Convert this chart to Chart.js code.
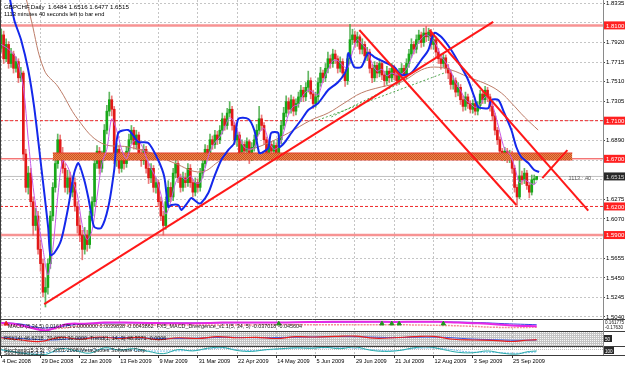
<!DOCTYPE html>
<html>
<head>
<meta charset="utf-8">
<title>GBPCHF Daily</title>
<script src="https://cdn.jsdelivr.net/npm/chart.js@4.4.1/dist/chart.umd.min.js"></script>
<style>
  html, body { margin: 0; padding: 0; background: #fff; }
  canvas { display: block; }
</style>
</head>
<body>
<canvas id="chart" width="625" height="365"></canvas>
<script>
// header texts
const symbolTitle = "GBPCHF,Daily  1.6484 1.6516 1.6477 1.6515";
const timerText = "1113 minutes 40 seconds left to bar end";
const timerShort = "1113 : 40";

// x axis: one label every 16 daily bars
const dateLabels = ["4 Dec 2008", "29 Dec 2008", "22 Jan 2009", "13 Feb 2009", "9 Mar 2009", "31 Mar 2009",
  "22 Apr 2009", "14 May 2009", "5 Jun 2009", "29 Jun 2009", "21 Jul 2009", "12 Aug 2009", "3 Sep 2009", "25 Sep 2009"];
const dateBars = [0, 16, 32, 48, 64, 80, 96, 112, 128, 144, 160, 176, 192, 208];

// price axis
const priceTicks = [1.8335, 1.8130, 1.7920, 1.7715, 1.7510, 1.7305, 1.7100, 1.6890, 1.6685, 1.6480,
  1.6275, 1.6070, 1.5865, 1.5655, 1.5450, 1.5245, 1.5040];

// daily candles
const opens = [
  1.7860,1.8000,1.7750,1.7900,1.7700,1.7800,1.7650,1.7720,1.7550,1.7600,
  1.6750,1.6400,1.6550,1.6250,1.6000,1.6100,1.5750,1.5600,1.5300,1.5350,
  1.5600,1.6100,1.6400,1.6650,1.6900,1.6750,1.6600,1.6400,1.6500,1.6350,
  1.6450,1.6200,1.6000,1.5900,1.5750,1.5900,1.5800,1.6100,1.6250,1.6650,
  1.6780,1.6600,1.6720,1.7000,1.7200,1.7320,1.7220,1.6700,1.6800,1.6600,
  1.6720,1.6650,1.6780,1.6900,1.7000,1.6850,1.6950,1.6750,1.6680,1.6800,
  1.6600,1.6500,1.6600,1.6400,1.6450,1.6250,1.6100,1.6000,1.6250,1.6400,
  1.6300,1.6550,1.6650,1.6500,1.6400,1.6500,1.6450,1.6600,1.6450,1.6350,
  1.6450,1.6400,1.6550,1.6650,1.6800,1.6750,1.6900,1.6850,1.6950,1.6900,
  1.7000,1.7120,1.7050,1.7180,1.7220,1.7050,1.6900,1.6950,1.6750,1.6850,
  1.6780,1.6880,1.6720,1.6820,1.6900,1.7000,1.7120,1.7050,1.6900,1.6750,
  1.6850,1.6780,1.6840,1.6760,1.6900,1.7050,1.7180,1.7300,1.7220,1.7320,
  1.7200,1.7280,1.7350,1.7420,1.7350,1.7450,1.7520,1.7380,1.7280,1.7350,
  1.7500,1.7600,1.7550,1.7650,1.7750,1.7700,1.7800,1.7750,1.7650,1.7720,
  1.7600,1.7520,1.7750,1.7950,1.8000,1.7920,1.7980,1.7850,1.7900,1.7780,
  1.7820,1.7650,1.7550,1.7680,1.7600,1.7700,1.7580,1.7520,1.7620,1.7550,
  1.7650,1.7580,1.7520,1.7600,1.7650,1.7580,1.7700,1.7800,1.7900,1.7850,
  1.7950,1.8000,1.7920,1.8020,1.7980,1.8030,1.7900,1.7950,1.7820,1.7750,
  1.7700,1.7760,1.7650,1.7600,1.7480,1.7520,1.7400,1.7450,1.7320,1.7250,
  1.7350,1.7280,1.7220,1.7280,1.7200,1.7260,1.7380,1.7320,1.7420,1.7350,
  1.7250,1.7150,1.7000,1.6900,1.6780,1.6720,1.6780,1.6700,1.6750,1.6600,
  1.6400,1.6300,1.6520,1.6480,1.6550,1.6420,1.6350,1.6480,1.6484
];
const highs = [
  1.8060,1.8040,1.7960,1.7930,1.7860,1.7830,1.7770,1.7750,1.7660,1.7620,
  1.6800,1.6620,1.6600,1.6300,1.6180,1.6150,1.5850,1.5650,1.5450,1.5650,
  1.6150,1.6450,1.6720,1.6960,1.6950,1.6820,1.6650,1.6580,1.6560,1.6520,
  1.6500,1.6250,1.6080,1.5950,1.5980,1.5950,1.6150,1.6300,1.6720,1.6840,
  1.6820,1.6780,1.7060,1.7260,1.7400,1.7360,1.7250,1.6860,1.6840,1.6770,
  1.6760,1.6830,1.6960,1.7050,1.7030,1.7000,1.6980,1.6800,1.6850,1.6830,
  1.6650,1.6650,1.6630,1.6500,1.6480,1.6300,1.6150,1.6300,1.6470,1.6450,
  1.6600,1.6700,1.6680,1.6540,1.6560,1.6550,1.6650,1.6640,1.6480,1.6500,
  1.6490,1.6600,1.6700,1.6850,1.6840,1.6960,1.6940,1.7000,1.6990,1.7050,
  1.7180,1.7150,1.7230,1.7300,1.7250,1.7080,1.7000,1.6980,1.6900,1.6880,
  1.6920,1.6900,1.6870,1.6950,1.7060,1.7250,1.7160,1.7080,1.6930,1.6890,
  1.6880,1.6890,1.6870,1.6950,1.7100,1.7240,1.7360,1.7340,1.7370,1.7350,
  1.7330,1.7400,1.7470,1.7450,1.7500,1.7620,1.7550,1.7420,1.7400,1.7550,
  1.7660,1.7630,1.7700,1.7820,1.7790,1.7850,1.7840,1.7780,1.7770,1.7750,
  1.7640,1.7800,1.8110,1.8060,1.8040,1.8030,1.8000,1.7960,1.7930,1.7870,
  1.7850,1.7690,1.7720,1.7710,1.7750,1.7730,1.7620,1.7670,1.7650,1.7700,
  1.7680,1.7610,1.7650,1.7700,1.7680,1.7750,1.7850,1.7960,1.7930,1.8000,
  1.8050,1.8030,1.8070,1.8090,1.8070,1.8060,1.8000,1.7980,1.7860,1.7790,
  1.7800,1.7790,1.7690,1.7630,1.7570,1.7550,1.7500,1.7480,1.7360,1.7400,
  1.7380,1.7310,1.7320,1.7310,1.7300,1.7420,1.7410,1.7460,1.7450,1.7380,
  1.7280,1.7180,1.7030,1.6930,1.6810,1.6820,1.6810,1.6790,1.6780,1.6630,
  1.6430,1.6720,1.6570,1.6600,1.6580,1.6450,1.6530,1.6530,1.6516
];
const lows = [
  1.7820,1.7700,1.7720,1.7650,1.7660,1.7600,1.7610,1.7500,1.7510,1.6680,
  1.6350,1.6330,1.6200,1.5900,1.5950,1.5700,1.5520,1.5250,1.5145,1.5280,
  1.5550,1.6050,1.6350,1.6600,1.6700,1.6550,1.6350,1.6330,1.6300,1.6300,
  1.6150,1.5920,1.5830,1.5640,1.5700,1.5730,1.5760,1.6050,1.6200,1.6600,
  1.6540,1.6560,1.6680,1.6960,1.7150,1.7150,1.6650,1.6620,1.6550,1.6560,
  1.6590,1.6610,1.6740,1.6860,1.6800,1.6800,1.6700,1.6620,1.6640,1.6550,
  1.6440,1.6450,1.6350,1.6340,1.6200,1.6050,1.5900,1.5960,1.6200,1.6250,
  1.6260,1.6500,1.6450,1.6350,1.6360,1.6400,1.6410,1.6400,1.6300,1.6310,
  1.6350,1.6360,1.6500,1.6610,1.6700,1.6710,1.6800,1.6810,1.6850,1.6860,
  1.6960,1.7000,1.7010,1.7140,1.7000,1.6850,1.6830,1.6680,1.6700,1.6720,
  1.6740,1.6650,1.6680,1.6780,1.6860,1.6960,1.7000,1.6850,1.6700,1.6710,
  1.6720,1.6740,1.6710,1.6720,1.6860,1.7010,1.7140,1.7170,1.7180,1.7150,
  1.7160,1.7240,1.7300,1.7300,1.7310,1.7400,1.7330,1.7230,1.7240,1.7300,
  1.7460,1.7500,1.7510,1.7600,1.7650,1.7660,1.7700,1.7600,1.7610,1.7550,
  1.7460,1.7480,1.7700,1.7900,1.7870,1.7880,1.7800,1.7800,1.7720,1.7730,
  1.7600,1.7500,1.7510,1.7550,1.7560,1.7530,1.7460,1.7480,1.7500,1.7510,
  1.7530,1.7470,1.7480,1.7550,1.7530,1.7540,1.7660,1.7760,1.7800,1.7810,
  1.7910,1.7870,1.7880,1.7930,1.7940,1.7850,1.7850,1.7770,1.7700,1.7640,
  1.7660,1.7600,1.7540,1.7430,1.7430,1.7350,1.7360,1.7270,1.7200,1.7210,
  1.7230,1.7180,1.7180,1.7160,1.7160,1.7220,1.7280,1.7280,1.7300,1.7200,
  1.7100,1.6950,1.6850,1.6740,1.6680,1.6680,1.6660,1.6660,1.6550,1.6350,
  1.6210,1.6280,1.6430,1.6440,1.6380,1.6290,1.6320,1.6440,1.6477
];
const closes = [
  1.8000,1.7750,1.7900,1.7700,1.7800,1.7650,1.7720,1.7550,1.7600,1.6750,
  1.6400,1.6550,1.6250,1.6000,1.6100,1.5750,1.5600,1.5300,1.5350,1.5600,
  1.6100,1.6400,1.6650,1.6900,1.6750,1.6600,1.6400,1.6500,1.6350,1.6450,
  1.6200,1.6000,1.5900,1.5750,1.5900,1.5800,1.6100,1.6250,1.6650,1.6780,
  1.6600,1.6720,1.7000,1.7200,1.7320,1.7220,1.6700,1.6800,1.6600,1.6720,
  1.6650,1.6780,1.6900,1.7000,1.6850,1.6950,1.6750,1.6680,1.6800,1.6600,
  1.6500,1.6600,1.6400,1.6450,1.6250,1.6100,1.6000,1.6250,1.6400,1.6300,
  1.6550,1.6650,1.6500,1.6400,1.6500,1.6450,1.6600,1.6450,1.6350,1.6450,
  1.6400,1.6550,1.6650,1.6800,1.6750,1.6900,1.6850,1.6950,1.6900,1.7000,
  1.7120,1.7050,1.7180,1.7220,1.7050,1.6900,1.6950,1.6750,1.6850,1.6780,
  1.6880,1.6720,1.6820,1.6900,1.7000,1.7120,1.7050,1.6900,1.6750,1.6850,
  1.6780,1.6840,1.6760,1.6900,1.7050,1.7180,1.7300,1.7220,1.7320,1.7200,
  1.7280,1.7350,1.7420,1.7350,1.7450,1.7520,1.7380,1.7280,1.7350,1.7500,
  1.7600,1.7550,1.7650,1.7750,1.7700,1.7800,1.7750,1.7650,1.7720,1.7600,
  1.7520,1.7750,1.7950,1.8000,1.7920,1.7980,1.7850,1.7900,1.7780,1.7820,
  1.7650,1.7550,1.7680,1.7600,1.7700,1.7580,1.7520,1.7620,1.7550,1.7650,
  1.7580,1.7520,1.7600,1.7650,1.7580,1.7700,1.7800,1.7900,1.7850,1.7950,
  1.8000,1.7920,1.8020,1.7980,1.8030,1.7900,1.7950,1.7820,1.7750,1.7700,
  1.7760,1.7650,1.7600,1.7480,1.7520,1.7400,1.7450,1.7320,1.7250,1.7350,
  1.7280,1.7220,1.7280,1.7200,1.7260,1.7380,1.7320,1.7420,1.7350,1.7250,
  1.7150,1.7000,1.6900,1.6780,1.6720,1.6780,1.6700,1.6750,1.6600,1.6400,
  1.6300,1.6520,1.6480,1.6550,1.6420,1.6350,1.6480,1.6484,1.6515
];

// moving averages, [bar, price]
const blueMa = [[3,1.845],[5.3,1.8157],[8.1,1.7947],[11,1.7632],[13.4,1.7244],[16.3,1.6614],[19.1,1.5984],[20,1.5691],
  [21.6,1.5712],[24.4,1.5848],[27.3,1.6194],[29.7,1.6551],[31.4,1.6656],[33.8,1.6478],[35.4,1.6299],[36.6,1.6131],
  [37.9,1.5984],[40.7,1.5974],[43.6,1.6194],[46,1.6583],[47.6,1.6971],[51.7,1.7002],[54.2,1.6929],[55.8,1.6876],
  [59.9,1.6866],[63.9,1.6687],[66.4,1.6509],[68,1.6194],[69.2,1.6215],[72.1,1.6215],[73.3,1.6163],[76.1,1.6247],
  [77.4,1.6289],[80.2,1.6236],[81.4,1.6236],[84.3,1.6341],[86.7,1.6509],[89.6,1.6687],[92.4,1.6792],[94.9,1.6866],
  [96.5,1.7118],[100.6,1.7118],[103,1.7002],[105,1.6761],[105.9,1.6761],[108.7,1.6813],[109.9,1.6971],[112.8,1.6971],
  [113.2,1.6824],[115.2,1.6866],[118.1,1.6971],[122.1,1.7107],[125,1.7212],[129.1,1.7286],[133.1,1.7422],[137.2,1.7506],
  [140.5,1.7632],[141.3,1.781],[143.7,1.7663],[146.6,1.7663],[149.4,1.781],[151.9,1.7768],[155.9,1.7716],[160,1.7663],
  [162.9,1.7579],[166.9,1.7600],[171,1.7737],[173.9,1.7842],[176.3,1.8020],[179.2,1.7978],[183.2,1.7842],[187.3,1.7663],
  [190.1,1.7527],[192.6,1.7349],[194.2,1.7244],[198.3,1.7233],[199.5,1.7317],[202.4,1.7317],[204.8,1.7181],
  [207.7,1.7002],[209.7,1.6824],[211.7,1.6719],[214.6,1.6656],[217,1.6583],[219,1.6562]];
const violetMa = [[0,1.790],[3,1.785],[6,1.776],[9,1.745],[11,1.690],[13,1.640],[15,1.605],[17,1.575],[19,1.548],[21,1.575],
  [23,1.630],[25,1.668],[27,1.662],[29,1.648],[31,1.632],[33,1.600],[35,1.585],[37,1.595],[39,1.630],[41,1.665],[43,1.680],
  [45,1.712],[47,1.700],[49,1.680],[51,1.670],[53,1.685],[55,1.690],[57,1.685],[59,1.672],[61,1.660],[63,1.650],[65,1.633],
  [67,1.612],[69,1.625],[71,1.645],[73,1.652],[75,1.648],[77,1.652],[79,1.645],[81,1.645],[83,1.660],[85,1.678],[87,1.687],
  [89,1.693],[91,1.703],[93,1.713],[95,1.708],[97,1.693],[99,1.682],[101,1.680],[103,1.682],[105,1.697],[107,1.702],
  [109,1.688],[111,1.680],[113,1.683],[115,1.698],[117,1.717],[119,1.725],[121,1.727],[123,1.737],[125,1.742],[127,1.740],
  [129,1.737],[131,1.752],[133,1.763],[135,1.773],[137,1.773],[139,1.768],[141,1.765],[143,1.782],[145,1.795],[147,1.790],
  [149,1.784],[151,1.770],[153,1.762],[155,1.764],[157,1.757],[159,1.760],[161,1.758],[163,1.759],[165,1.764],[167,1.776],
  [169,1.788],[171,1.796],[173,1.800],[175,1.797],[177,1.790],[179,1.778],[181,1.771],[183,1.762],[185,1.750],[187,1.742],
  [189,1.732],[191,1.728],[193,1.724],[195,1.727],[197,1.735],[199,1.733],[201,1.718],[203,1.698],[205,1.680],[207,1.675],
  [209,1.662],[211,1.645],[213,1.648],[215,1.645],[217,1.643],[218,1.646]];
const brownMa = [[10,1.840],[12.2,1.8157],[17.5,1.7632],[23.2,1.7454],[31.4,1.7107],[40.7,1.6866],[51.7,1.6824],
  [61.1,1.6761],[70.4,1.6656],[81.4,1.6562],[89.6,1.6687],[97.7,1.6761],[108.7,1.6866],[116.9,1.6971],[126.2,1.7107],
  [133.1,1.7181],[139.7,1.7286],[146.6,1.7391],[154.7,1.7454],[162.9,1.7506],[171,1.7632],[176.3,1.7663],[183.2,1.7632],
  [190.1,1.7558],[198.3,1.7475],[203.6,1.7391],[207.7,1.7286],[213,1.7139],[218.6,1.7002]];

// drawn objects: horizontal levels, zone and trend lines
const levelPrices = [1.8100, 1.7100, 1.6700, 1.6200, 1.5900];
const bidPrice = 1.6515;
const zoneBars = [21, 232.5];
const zonePrices = [1.6688, 1.6761];
const trendLines = [
  [[17.5, 1.5176], [200.3, 1.8136]],
  [[145.8, 1.8052], [209.7, 1.6215]],
  [[174.3, 1.8052], [239, 1.6157]],
  [[220.3, 1.6498], [230.5, 1.6791]]
];
const greenLines = [
  [[129.1, 1.7107], [180.4, 1.7601]],
  [[134.4, 1.7139], [160.8, 1.7475]]
];

// indicator windows
const macdTitle = "MACD (5,34,5) 0.0161775 0.0000000 0.0039838 -0.0043862  FX5_MACD_Divergence_v1.1(5, 34, 5) -0.037018 -0.045604";
const rsiTitle = "RSI(14) 46.6218  70.0000 30.0000  Trend(1, 14, 3) 48.3071 -0.0006";
const stochTitle = "Stochastic(5,3,3)  \u00a9 2001-2008 MetaQuotes Software Corp.";
const macdLine = [[0,0.05],[5,0.03],[10,-0.05],[14,-0.12],[18,-0.16],[22,-0.09],[27,0.02],[34,0.03],[42,0.06],[50,0.06],
  [60,0.05],[70,0.04],[80,0.045],[90,0.06],[100,0.065],[110,0.06],[120,0.07],[130,0.08],[140,0.085],[150,0.085],[160,0.08],
  [170,0.085],[178,0.085],[186,0.06],[194,0.04],[202,0.01],[210,-0.03],[218,-0.04]];
const macdBlue = [[0,0.06],[8,0.02],[16,-0.09],[24,-0.05],[32,0.02],[44,0.05],[60,0.055],[80,0.05],[100,0.06],[120,0.065],
  [140,0.075],[160,0.08],[180,0.08],[195,0.06],[205,0.03],[218,0.0]];
const macdSignal = [[0,-0.01],[8,-0.04],[16,-0.12],[24,-0.10],[34,-0.03],[50,-0.01],[80,-0.01],[120,0.0],[160,0.0],
  [180,-0.02],[190,-0.04],[200,-0.07],[210,-0.08],[218,-0.07]];
const upArrowBars = [113, 155, 159, 162, 180];
const downArrowBars = [2];
const rsiRed = [[0,55],[8,40],[16,30],[24,58],[32,45],[40,60],[48,50],[56,58],[64,42],[72,55],[80,50],[88,62],[96,55],
  [104,58],[112,50],[120,62],[128,60],[136,64],[144,66],[152,52],[160,55],[168,62],[176,64],[184,45],[192,40],[200,38],
  [208,30],[212,36],[218,42]];
const rsiBlue = [[0,58],[10,48],[20,40],[30,50],[40,55],[50,56],[60,52],[70,50],[80,52],[90,58],[100,56],[110,56],
  [120,59],[130,61],[140,63],[150,60],[160,56],[170,59],[180,58],[190,48],[200,42],[210,38],[218,40]];
const stochMain = [[0,60],[6,30],[12,10],[18,5],[24,70],[30,50],[36,20],[42,80],[48,55],[54,70],[60,40],[66,15],[72,60],
  [78,45],[84,75],[90,85],[96,50],[102,40],[108,60],[114,70],[120,80],[126,75],[132,85],[138,70],[144,90],[150,55],
  [156,40],[162,50],[168,80],[174,90],[180,60],[186,30],[192,25],[198,45],[204,20],[210,10],[214,35],[218,45]];
const stochSignal = [[0,55],[10,25],[20,30],[30,45],[40,60],[50,58],[60,45],[70,45],[80,55],[90,75],[100,50],[110,60],
  [120,75],[130,78],[140,80],[150,60],[160,48],[170,75],[180,70],[190,35],[200,30],[210,20],[218,35]];

const FONT = "Liberation Sans";
const upColor = "rgb(24,168,24)";
const downColor = "rgb(226,24,24)";
const gridColor = "rgba(150,150,150,0.55)";

function pts(list) {
  return list.map(([b, v]) => ({ x: b, y: v }));
}
function flatLine(price) {
  return [{ x: -0.5, y: price }, { x: 245, y: price }];
}

// hatched texture for the zone
function zonePattern() {
  const c = document.createElement("canvas");
  c.width = 2; c.height = 2;
  const g = c.getContext("2d");
  g.fillStyle = "rgb(236,140,70)"; g.fillRect(0, 0, 2, 2);
  g.fillStyle = "rgb(205,75,40)"; g.fillRect(0, 0, 1, 1); g.fillRect(1, 1, 1, 1);
  return g.createPattern(c, "repeat");
}

const levelLooks = [
  { color: "rgba(245,120,120,0.8)", width: 2.5, dash: [] },
  { color: "rgb(240,40,40)", width: 1, dash: [3, 2] },
  { color: "rgb(240,60,60)", width: 1, dash: [] },
  { color: "rgb(240,40,40)", width: 1, dash: [3, 2] },
  { color: "rgba(245,120,120,0.8)", width: 2.5, dash: [] }
];

const datasets = [];

trendLines.forEach(seg => datasets.push({
  type: "line", data: pts(seg), borderColor: "rgb(255,24,24)", borderWidth: 2,
  pointRadius: 0, yAxisID: "y", order: 1
}));
greenLines.forEach(seg => datasets.push({
  type: "line", data: pts(seg), borderColor: "rgba(40,150,40,0.8)", borderWidth: 1, borderDash: [2, 2],
  pointRadius: 0, yAxisID: "y", order: 5
}));
datasets.push({
  type: "line", data: pts(blueMa), borderColor: "rgb(20,40,235)", borderWidth: 2,
  pointRadius: 0, tension: 0.25, yAxisID: "y", order: 2
});
datasets.push({
  type: "line", data: pts(violetMa), borderColor: "rgb(200,90,230)", borderWidth: 1,
  pointRadius: 0, tension: 0.3, yAxisID: "y", order: 3
});
datasets.push({
  type: "line", data: pts(brownMa), borderColor: "rgb(190,125,105)", borderWidth: 1,
  pointRadius: 0, tension: 0.4, yAxisID: "y", order: 5
});
datasets.push({
  type: "line",
  data: [{ x: zoneBars[0], y: zonePrices[1] }, { x: zoneBars[1], y: zonePrices[1] }],
  fill: { value: zonePrices[0] }, backgroundColor: zonePattern(),
  borderColor: "rgb(232,64,44)", borderWidth: 1, pointRadius: 0, yAxisID: "y", order: 4
});
datasets.push({
  type: "line",
  data: [{ x: zoneBars[0], y: zonePrices[0] }, { x: zoneBars[1], y: zonePrices[0] }],
  borderColor: "rgb(232,64,44)", borderWidth: 1, pointRadius: 0, yAxisID: "y", order: 4
});
datasets.push({
  type: "bar",
  data: closes.map((c, i) => ({ x: i, y: [opens[i], c] })),
  backgroundColor: ctx => (closes[ctx.dataIndex] >= opens[ctx.dataIndex] ? upColor : downColor),
  barThickness: 2, minBarLength: 1, grouped: false, yAxisID: "y", order: 6
});
datasets.push({
  type: "bar",
  data: closes.map((c, i) => ({ x: i, y: [lows[i], highs[i]] })),
  backgroundColor: ctx => (closes[ctx.dataIndex] >= opens[ctx.dataIndex] ? "rgba(60,165,60,0.8)" : "rgba(230,90,90,0.8)"),
  barThickness: 1, grouped: false, yAxisID: "y", order: 7
});
levelPrices.forEach((p, i) => datasets.push({
  type: "line", data: flatLine(p), borderColor: levelLooks[i].color, borderWidth: levelLooks[i].width,
  borderDash: levelLooks[i].dash, pointRadius: 0, yAxisID: "y", order: 8
}));
datasets.push({
  type: "line", data: flatLine(bidPrice), borderColor: "rgb(192,192,192)", borderWidth: 1,
  pointRadius: 0, yAxisID: "y", order: 9
});

// indicator lines
datasets.push({ type: "line", data: pts(macdLine), borderColor: "rgb(230,40,230)", borderWidth: 2,
  pointRadius: 0, tension: 0.4, yAxisID: "yMacd", order: 1 });
datasets.push({ type: "line", data: pts(macdBlue), borderColor: "rgb(60,60,230)", borderWidth: 1,
  pointRadius: 0, tension: 0.4, yAxisID: "yMacd", order: 2 });
datasets.push({ type: "line", data: pts(macdSignal), borderColor: "rgb(245,140,150)", borderWidth: 1.5,
  borderDash: [2, 1], pointRadius: 0, tension: 0.4, yAxisID: "yMacd", order: 3 });
datasets.push({ type: "scatter", data: upArrowBars.map(b => ({ x: b, y: 0.03 })), pointStyle: "triangle",
  pointRadius: 2.5, backgroundColor: "rgb(30,150,30)", borderColor: "rgb(30,150,30)", yAxisID: "yMacd", order: 0 });
datasets.push({ type: "scatter", data: downArrowBars.map(b => ({ x: b, y: 0.03 })), pointStyle: "triangle",
  pointRadius: 2.5, backgroundColor: "rgb(230,30,30)", borderColor: "rgb(230,30,30)", yAxisID: "yMacd", order: 0 });
datasets.push({ type: "line", data: pts(rsiRed), borderColor: "rgb(230,30,30)", borderWidth: 1.2,
  pointRadius: 0, tension: 0.4, yAxisID: "yRsi", order: 1 });
datasets.push({ type: "line", data: pts(rsiBlue), borderColor: "rgb(60,90,230)", borderWidth: 1,
  pointRadius: 0, tension: 0.4, yAxisID: "yRsi", order: 2 });
datasets.push({ type: "line", data: pts(stochMain), borderColor: "rgb(40,170,170)", borderWidth: 1,
  pointRadius: 0, tension: 0.4, yAxisID: "yStoch", order: 1 });
datasets.push({ type: "line", data: pts(stochSignal), borderColor: "rgb(120,190,235)", borderWidth: 1,
  borderDash: [2, 1], pointRadius: 0, tension: 0.4, yAxisID: "yStoch", order: 2 });

function hideLabel(v) {
  return levelPrices.concat([bidPrice]).some(p => Math.abs(p - v) < 0.004);
}

// no extra room for edge labels: the plot must fill the window
function noPadding(s) {
  s.paddingTop = 0; s.paddingBottom = 0; s.paddingLeft = 0; s.paddingRight = 0;
}

const mtPanels = {
  id: "mtPanels",
  beforeDraw(chart) {
    const { ctx, chartArea: a, scales } = chart;
    ctx.save();
    ctx.fillStyle = "#fff";
    ctx.fillRect(0, 0, chart.width, chart.height);
    const r = scales.yRsi;
    ctx.fillStyle = "rgb(196,196,196)";
    ctx.fillRect(a.left, r.top, a.right - a.left, r.bottom - r.top);
    ctx.strokeStyle = "rgba(255,255,255,0.9)";
    ctx.lineWidth = 1;
    ctx.setLineDash([1, 1]);
    for (let yy = r.top + 1.5; yy < r.bottom; yy += 2) {
      ctx.beginPath(); ctx.moveTo(a.left, yy); ctx.lineTo(a.right, yy); ctx.stroke();
    }
    const s = scales.yStoch;
    ctx.strokeStyle = "rgba(140,140,140,0.6)";
    for (let yy = s.top + 1.5; yy < s.top + 5; yy += 2) {
      ctx.beginPath(); ctx.moveTo(a.left, yy); ctx.lineTo(a.right, yy); ctx.stroke();
    }
    ctx.restore();
  },
  afterDraw(chart) {
    const { ctx, chartArea: a, scales } = chart;
    const x = scales.x, y = scales.y;
    ctx.save();
    // window frames
    ctx.strokeStyle = "#3c3c3c";
    ctx.lineWidth = 1;
    [scales.yMacd.top, scales.yRsi.top, scales.yStoch.top, a.bottom].forEach(t => {
      const ty = Math.round(t) + 0.5;
      ctx.beginPath(); ctx.moveTo(0, ty); ctx.lineTo(chart.width, ty); ctx.stroke();
    });
    ctx.beginPath(); ctx.moveTo(0.5, 0); ctx.lineTo(0.5, a.bottom); ctx.stroke();
    ctx.strokeStyle = "#8a8a8a";
    ctx.beginPath(); ctx.moveTo(a.right + 0.5, 0); ctx.lineTo(a.right + 0.5, a.bottom); ctx.stroke();

    // level price boxes
    ctx.font = "6px '" + FONT + "'";
    ctx.textBaseline = "middle";
    ctx.textAlign = "left";
    levelPrices.forEach(p => {
      const py = y.getPixelForValue(p);
      ctx.fillStyle = "rgb(255,32,32)";
      ctx.fillRect(a.right + 1, py - 4, 21, 8);
      ctx.fillStyle = "#fff";
      ctx.fillText(p.toFixed(4), a.right + 3, py + 0.5);
    });
    const by = y.getPixelForValue(bidPrice);
    ctx.fillStyle = "rgb(40,40,40)";
    ctx.fillRect(a.right + 1, by - 4, 21, 8);
    ctx.fillStyle = "#ddd";
    ctx.fillText(bidPrice.toFixed(4), a.right + 3, by + 0.5);

    // time left label near the last bar
    ctx.fillStyle = "rgb(90,90,90)";
    ctx.font = "5.6px '" + FONT + "'";
    ctx.fillText(timerShort, x.getPixelForValue(231), by + 2);

    // header
    ctx.fillStyle = "#000";
    ctx.font = "6.2px '" + FONT + "'";
    ctx.textBaseline = "alphabetic";
    ctx.fillText(symbolTitle, 4, 8.5);
    ctx.font = "5.7px '" + FONT + "'";
    ctx.fillText(timerText, 4, 15.5);

    // indicator captions
    ctx.font = "5.4px '" + FONT + "'";
    ctx.fillStyle = "rgb(20,20,20)";
    ctx.fillText(macdTitle, 8, scales.yMacd.top + 8.5);
    ctx.fillText(rsiTitle, 4, scales.yRsi.top + 8.5);
    ctx.fillText(stochTitle, 4, scales.yStoch.top + 5.5);
    ctx.fillText("Stochastic(5,3,3)", 4, scales.yStoch.top + 8.5);

    // indicator scale captions
    ctx.font = "4.6px '" + FONT + "'";
    ctx.fillText("0.161775", a.right + 2, scales.yMacd.top + 5);
    ctx.fillText("-0.17630", a.right + 2, scales.yMacd.top + 10);
    ctx.fillStyle = "rgb(40,40,40)";
    ctx.fillRect(a.right + 1, scales.yRsi.top + 4, 8, 7);
    ctx.fillRect(a.right + 1, scales.yStoch.top + 1, 10, 7);
    ctx.fillStyle = "#fff";
    ctx.fillText("50", a.right + 2, scales.yRsi.top + 9.5);
    ctx.fillText("100", a.right + 2, scales.yStoch.top + 6.5);
    ctx.restore();
  }
};

const panelAxis = (min, max, w) => ({
  type: "linear", position: "right", stack: "mt", stackWeight: w, min: min, max: max,
  ticks: { display: false }, grid: { display: false }, border: { display: false },
  afterFit: s => { s.width = 22; noPadding(s); }
});

new Chart(document.getElementById("chart"), {
  type: "bar",
  data: { datasets: datasets },
  plugins: [mtPanels],
  options: {
    responsive: false,
    animation: false,
    devicePixelRatio: 1,
    events: [],
    layout: { padding: 0, autoPadding: false },
    plugins: { legend: { display: false }, tooltip: { enabled: false } },
    scales: {
      x: {
        type: "linear", min: -0.5, max: 245, offset: false,
        afterBuildTicks: s => { s.ticks = dateBars.map(v => ({ value: v })); },
        afterFit: s => { s.height = 10; noPadding(s); },
        ticks: {
          callback: (v, i) => dateLabels[i], align: "start", maxRotation: 0, autoSkip: false,
          font: { family: FONT, size: 5.6 }, color: "#000", padding: 0, labelOffset: 1
        },
        grid: { offset: false, color: gridColor, drawTicks: true, tickLength: 3, tickColor: "#333", tickWidth: 1 },
        border: { display: false, dash: [2, 2] }
      },
      y: {
        type: "linear", position: "right", stack: "mt", stackWeight: 319,
        min: 1.5019, max: 1.83665,
        afterBuildTicks: s => { s.ticks = priceTicks.map(v => ({ value: v })); },
        afterFit: s => { s.width = 22; noPadding(s); },
        ticks: {
          callback: v => (hideLabel(v) ? "" : v.toFixed(4)),
          font: { family: FONT, size: 6 }, color: "#000", padding: 1, autoSkip: false
        },
        grid: { color: gridColor, drawTicks: true, tickLength: 2, tickColor: "#444" },
        border: { display: false, dash: [2, 2] }
      },
      yMacd: panelAxis(-0.1763, 0.1618, 12),
      yRsi: panelAxis(0, 100, 15),
      yStoch: panelAxis(0, 100, 9)
    }
  }
});
</script>
</body>
</html>
